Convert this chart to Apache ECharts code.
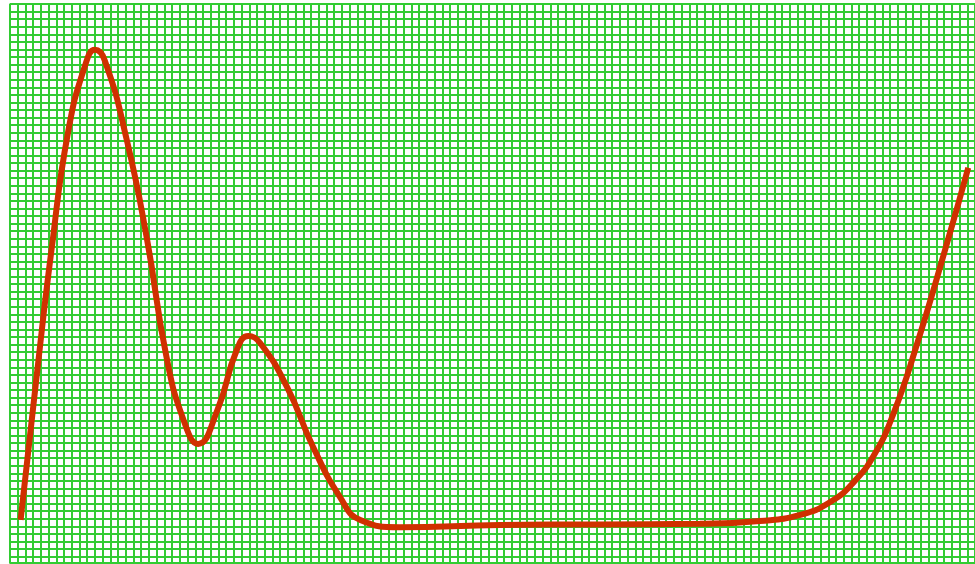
<!DOCTYPE html>
<html>
<head>
<meta charset="utf-8">
<script src="https://cdn.jsdelivr.net/npm/echarts@6/dist/echarts.min.js"></script>
<style>html,body{margin:0;padding:0;background:#fff;}#c{width:975px;height:564px;}</style>
</head>
<body>
<div id="c"></div>
<script>
// Curve samples: x position (0-100 scale across the plot), y value (0-100 scale)
var xValues = [1.1,2.8,4.3,6.0,7.8,8.8,9.8,12.1,14.2,16.2,18.0,19.5,21.5,23.5,24.7,25.9,28.7,31.4,34.2,36.3,40.4,50.8,61.1,71.5,77.7,81.9,85.0,87.5,89.6,91.5,93.8,96.9,99.3];
var yValues = [7.7,34.0,56.0,76.9,89.1,91.8,90.0,75.7,57.9,37.0,25.5,21.3,27.4,38.1,40.6,39.4,31.5,20.8,11.8,7.7,6.4,6.8,6.9,7.0,7.5,8.6,10.9,14.6,19.5,26.5,38.1,56.0,70.7];
// Graph-paper grid: number of columns and rows
var gridCols = 125;
var gridRows = 73.84;

var green = '#33cc33';
var chart = echarts.init(document.getElementById('c'));
var data = xValues.map(function (x, i) { return [x, yValues[i]]; });
chart.setOption({
  animation: false,
  grid: { left: 10, right: 0, top: 4, bottom: 1, containLabel: false },
  xAxis: [
    { type: 'value', min: 0, max: gridCols, interval: 1,
      axisLabel: { show: false }, axisTick: { show: false },
      axisLine: { show: true, onZero: false, lineStyle: { color: green, width: 1.5 } },
      splitLine: { show: true, lineStyle: { color: green, width: 2 } } },
    { type: 'value', min: 0, max: 100, show: false, position: 'top' }
  ],
  yAxis: [
    { type: 'value', inverse: true, min: 0, max: gridRows, interval: 1,
      axisLabel: { show: false }, axisTick: { show: false },
      axisLine: { show: true, onZero: false, lineStyle: { color: green, width: 1.5 } },
      splitLine: { show: true, lineStyle: { color: green, width: 2 } } },
    { type: 'value', min: 0, max: 100, show: false, position: 'right' }
  ],
  series: [{
    type: 'line', xAxisIndex: 1, yAxisIndex: 1, data: data,
    smooth: 0.5, showSymbol: false, symbol: 'none',
    lineStyle: { color: '#d03000', width: 6 }
  }]
});
</script>
</body>
</html>
